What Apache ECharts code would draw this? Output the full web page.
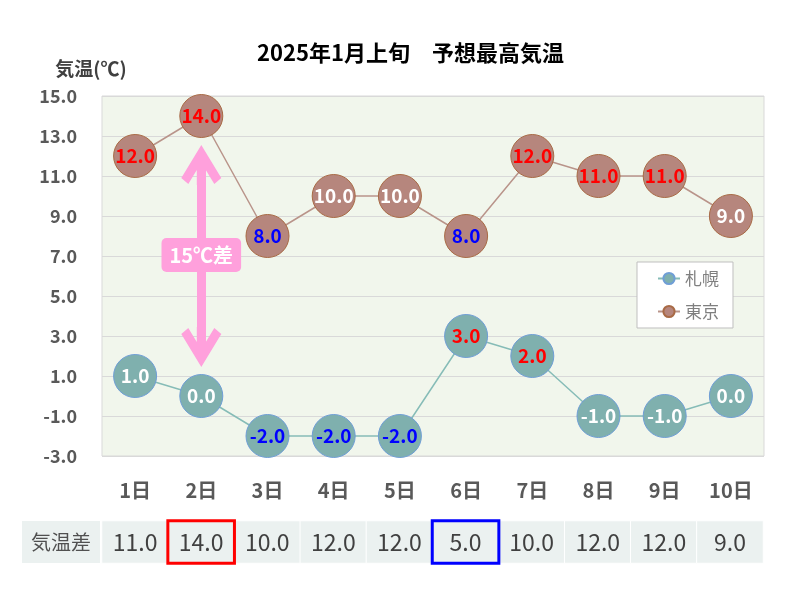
<!DOCTYPE html>
<html><head><meta charset="utf-8">
<script src="https://cdn.jsdelivr.net/npm/echarts@6/dist/echarts.min.js"></script>
<style>html,body{margin:0;padding:0;background:#fff}#c{width:800px;height:600px}</style>
</head><body><div id="c"></div>
<script>
const days = ['1日','2日','3日','4日','5日','6日','7日','8日','9日','10日'];
const sapporo = [1, 0, -2, -2, -2, 3, 2, -1, -1, 0];
const tokyo = [12, 14, 8, 10, 10, 8, 12, 11, 11, 9];
const diff = [11, 14, 10, 12, 12, 5, 10, 12, 12, 9];
const arrowFrom = 11.55, arrowTo = 2.45, arrowMid = 7.05;
const yMin = -3, yMax = 15, yStep = 2;

const FONT = 'Noto Sans CJK JP';
function labelled(values, hi, lo) {
  return values.map(v => ({
    value: v,
    label: { color: v >= hi ? '#ff0000' : (v <= lo ? '#0000ff' : '#ffffff') }
  }));
}
const maxIdx = diff.indexOf(Math.max(...diff));
const minIdx = diff.indexOf(Math.min(...diff));
const chevron = 'path://M20,0 L40,33 L33,39 L24.5,25 L24.5,40 L15.5,40 L15.5,25 L7,39 L0,33 Z';

const chart = echarts.init(document.getElementById('c'));
chart.setOption({
  animation: false,
  textStyle: { fontFamily: FONT },
  title: {
    text: '2025年1月上旬　予想最高気温',
    left: 252, top: 37,
    textStyle: { fontSize: 22, fontWeight: 'bold', color: '#000', fontFamily: FONT }
  },
  legend: {
    data: ['札幌', '東京'],
    orient: 'vertical',
    left: 637, top: 262,
    padding: [8, 14, 8, 20],
    itemWidth: 22, itemHeight: 14, itemGap: 16,
    backgroundColor: '#fff',
    borderColor: '#bfbfbf', borderWidth: 1,
    textStyle: { fontSize: 17, color: '#7f7f7f', fontFamily: FONT }
  },
  grid: [
    { left: 102, right: 36, top: 96, height: 360, show: true,
      backgroundColor: '#f1f6ec', borderColor: '#d9d9d9', borderWidth: 1 },
    { left: 102, right: 37, top: 521, height: 42 }
  ],
  xAxis: [
    { type: 'category', data: days, gridIndex: 0,
      axisLine: { show: false }, axisTick: { show: false },
      axisLabel: { margin: 24, fontSize: 20, fontWeight: 'bold', color: '#595959' } },
    { type: 'category', data: days, gridIndex: 1, show: false }
  ],
  yAxis: [
    { type: 'value', gridIndex: 0, min: yMin, max: yMax, interval: yStep,
      name: '気温(℃)', nameLocation: 'end', nameGap: 18,
      nameTextStyle: { fontSize: 19, fontWeight: 'bold', color: '#404040', align: 'center', padding: [0, 22, 0, 0] },
      axisLine: { show: false }, axisTick: { show: false },
      splitLine: { lineStyle: { color: '#d9d9d9' } },
      axisLabel: { margin: 25, fontSize: 18, fontWeight: 'bold', color: '#595959',
        formatter: v => v.toFixed(1) } },
    { type: 'category', gridIndex: 1, data: ['気温差'],
      axisLine: { show: false }, axisTick: { show: false },
      axisLabel: { margin: 41, align: 'center', verticalAlign: 'middle',
        width: 78, height: 42, lineHeight: 42,
        backgroundColor: '#ebf1f0', fontSize: 20, color: '#505050' } }
  ],
  series: [
    {
      name: '札幌', type: 'line', xAxisIndex: 0, yAxisIndex: 0,
      data: labelled(sapporo, 2, -2),
      symbol: 'circle', symbolSize: 43,
      itemStyle: { color: '#7fb0ae', borderColor: '#6f9ed6', borderWidth: 1 },
      lineStyle: { color: '#86bcb7', width: 1.5 },
      label: { show: true, position: 'inside', fontSize: 19, fontWeight: 'bold',
        formatter: p => p.value.toFixed(1) }
    },
    {
      name: '東京', type: 'line', xAxisIndex: 0, yAxisIndex: 0,
      data: labelled(tokyo, 11, 8),
      symbol: 'circle', symbolSize: 43,
      itemStyle: { color: '#b6867d', borderColor: '#a86a45', borderWidth: 1 },
      lineStyle: { color: '#b9948a', width: 1.5 },
      label: { show: true, position: 'inside', fontSize: 19, fontWeight: 'bold',
        formatter: p => p.value.toFixed(1) },
      markLine: {
        silent: true, animation: false,
        symbol: [chevron, chevron], symbolSize: [40, 40],
        lineStyle: { color: '#ffa0dc', width: 9, type: 'solid' },
        label: { show: false },
        data: [[{ coord: [days[maxIdx], arrowFrom] }, { coord: [days[maxIdx], arrowTo] }]]
      },
      markPoint: {
        silent: true, symbol: 'rect', symbolSize: 0,
        label: { show: true, position: 'inside', formatter: '15℃差',
          color: '#fff', fontSize: 20, fontWeight: 'bold',
          backgroundColor: '#ffa0dc', borderRadius: 5, padding: [7, 8, 7, 8] },
        data: [{ coord: [days[maxIdx], arrowMid] }]
      }
    },
    {
      name: '気温差', type: 'heatmap', xAxisIndex: 1, yAxisIndex: 1,
      data: diff.map((d, i) => [i, 0, d]),
      itemStyle: { color: '#ebf1f0', borderColor: '#ffffff', borderWidth: 1 },
      label: { show: true, fontSize: 23, color: '#404040', formatter: p => p.value[2].toFixed(1) }
    },
    {
      name: 'highlight', type: 'heatmap', xAxisIndex: 1, yAxisIndex: 1, z: 5,
      data: [
        { value: [maxIdx, 0, diff[maxIdx]], itemStyle: { borderColor: '#ff0000' } },
        { value: [minIdx, 0, diff[minIdx]], itemStyle: { borderColor: '#0000ff' } }
      ],
      itemStyle: { color: 'rgba(0,0,0,0)', borderWidth: 3 },
      label: { show: false }
    }
  ]
});
</script>
</body></html>
